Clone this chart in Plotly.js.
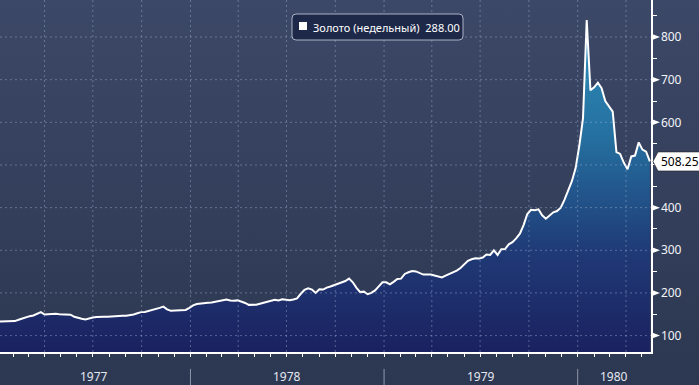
<!DOCTYPE html>
<html><head><meta charset="utf-8">
<script src="https://cdn.plot.ly/plotly-3.0.1.min.js"></script>
<style>
html,body{margin:0;padding:0;width:699px;height:385px;overflow:hidden;background:linear-gradient(#3c4867,#2c3751);}
#chart{width:699px;height:385px;}
</style>
</head><body><div id="chart"></div>
<script>
const dates = [
'1977-01-07','1977-01-14','1977-01-21','1977-01-28','1977-02-04','1977-02-11','1977-02-18','1977-02-25','1977-03-04','1977-03-11','1977-03-18','1977-03-25','1977-04-01','1977-04-08','1977-04-15','1977-04-22','1977-04-29','1977-05-06','1977-05-13','1977-05-20','1977-05-27','1977-06-03','1977-06-10','1977-06-17','1977-06-24','1977-07-01','1977-07-08','1977-07-15','1977-07-22','1977-07-29','1977-08-05','1977-08-12','1977-08-19','1977-08-26','1977-09-02','1977-09-09','1977-09-16','1977-09-23','1977-09-30','1977-10-07','1977-10-14','1977-10-21','1977-10-28','1977-11-04','1977-11-11','1977-11-18','1977-11-25','1977-12-02','1977-12-09','1977-12-16','1977-12-23','1977-12-30',
'1978-01-06','1978-01-13','1978-01-20','1978-01-27','1978-02-03','1978-02-10','1978-02-17','1978-02-24','1978-03-03','1978-03-10','1978-03-17','1978-03-24','1978-03-31','1978-04-07','1978-04-14','1978-04-21','1978-04-28','1978-05-05','1978-05-12','1978-05-19','1978-05-26','1978-06-02','1978-06-09','1978-06-16','1978-06-23','1978-06-30','1978-07-07','1978-07-14','1978-07-21','1978-07-28','1978-08-04','1978-08-11','1978-08-18','1978-08-25','1978-09-01','1978-09-08','1978-09-15','1978-09-22','1978-09-29','1978-10-06','1978-10-13','1978-10-20','1978-10-27','1978-11-03','1978-11-10','1978-11-17','1978-11-24','1978-12-01','1978-12-08','1978-12-15','1978-12-22','1978-12-29',
'1979-01-05','1979-01-12','1979-01-19','1979-01-26','1979-02-02','1979-02-09','1979-02-16','1979-02-23','1979-03-02','1979-03-09','1979-03-16','1979-03-23','1979-03-30','1979-04-06','1979-04-13','1979-04-20','1979-04-27','1979-05-04','1979-05-11','1979-05-18','1979-05-25','1979-06-01','1979-06-08','1979-06-15','1979-06-22','1979-06-29','1979-07-06','1979-07-13','1979-07-20','1979-07-27','1979-08-03','1979-08-10','1979-08-17','1979-08-24','1979-08-31','1979-09-07','1979-09-14','1979-09-21','1979-09-28','1979-10-05','1979-10-12','1979-10-19','1979-10-26','1979-11-02','1979-11-09','1979-11-16','1979-11-23','1979-11-30','1979-12-07','1979-12-14','1979-12-21','1979-12-28',
'1980-01-04','1980-01-11','1980-01-18','1980-01-25','1980-02-01','1980-02-08','1980-02-15','1980-02-22','1980-02-29','1980-03-07','1980-03-14','1980-03-21','1980-03-28','1980-04-04','1980-04-11','1980-04-18','1980-04-25','1980-05-02','1980-05-09','1980-05-16'
];
const prices = [
133,133,133,133,134,137,140,143,145.5,147,151,155,
149.5,150,151,151,150,150,149.5,149,144,141,139.5,138,
140.5,142.5,143.5,144.4,144,144,145,146,146.2,146.4,146.6,147.5,
149.5,152.5,155,155.5,157.5,160,162,165,168,161.5,158,158.5,
159,159.5,160,165,
170.8,174,175.5,176.5,177,177.8,179,181.3,183,184.3,182.5,181.5,
182.5,180,176.5,172,171.5,172.4,174.8,177.2,179.5,182.5,184,182.5,
185,184,183,184.8,187,198,207,211,208,200,208.5,208,
212.5,215,218,220.5,225,228,233.5,225,212,202,203,197,
200,206,215.5,225,225,220,226,232.5,233.5,244.5,248.5,251.3,
250.5,247.5,243,243.2,243,241,238,236.5,240.5,244,247.3,252.5,
258.5,268,275.5,279,281,280.5,283,290,289,300,289,302.5,
303,314,319,328,339,359,385,395,394,396,382,374,
382,389,392,400,418,440,462,492,545,610,840,675,
682,693,680,650,636,625,530,526,505,490,520,522,
553,536,531,508.25
];
const yearLabels = ['1977','1978','1979','1980'];
const yTickVals = [100,200,300,400,500,600,700,800];
const yTickText = ['100','200','300','400','','600','700','800'];
const lastValueText = '508.25';
const legendLabel = 'Золото (недельный)\u00a0\u00a0288.00';

const startMs = Date.UTC(1977,0,7);
const endMs = Date.UTC(1980,4,18,4);
const fmt = ms => new Date(ms).toISOString().slice(0,19).replace('T',' ');
const xRange = [fmt(startMs), fmt(endMs)];
const yRange = [61.5, 886.8];
const lastValue = prices[prices.length-1];

const gridColor = 'rgba(170,185,220,0.42)';
const shapes = [];
yearLabels.map(Number).forEach(y => {
  [0,3,6,9].forEach(m => {
    const ms = Date.UTC(y,m,1);
    if (ms > startMs && ms < endMs) {
      shapes.push({type:'line', xref:'x', yref:'paper', x0:fmt(ms), x1:fmt(ms), y0:0, y1:1,
        line:{color:gridColor, width:1, dash:'2px,3px'}, layer:'above'});
    }
  });
});
yTickVals.forEach(v => {
  shapes.push({type:'line', xref:'paper', yref:'y', x0:0, x1:1, y0:v, y1:v,
    line:{color:gridColor, width:1, dash:'2px,3px'}, layer:'above'});
});
yearLabels.map(Number).forEach(y => {
  const ms = Date.UTC(y,0,1);
  if (ms > startMs && ms < endMs) {
    shapes.push({type:'line', xref:'x', yref:'paper', x0:fmt(ms), x1:fmt(ms), y0:-0.048, y1:-0.095,
      line:{color:'#8e97aa', width:1}});
  }
});
yTickVals.forEach((v,i) => {
  if (yTickText[i] === '') return;
  shapes.push({type:'path', xref:'paper', xsizemode:'pixel', xanchor:1, yref:'y', ysizemode:'pixel', yanchor:v,
    path:'M 1,3 L 1,-3 L 9,0 Z', fillcolor:'#ffffff', line:{width:0}, layer:'above'});
});
shapes.push({type:'path', xref:'paper', xsizemode:'pixel', xanchor:1, yref:'y', ysizemode:'pixel', yanchor:lastValue,
  path:'M 2,0 L 7,9.5 L 50,9.5 L 50,-9.5 L 7,-9.5 Z', fillcolor:'#ffffff', line:{color:'#222', width:0.6}, layer:'above'});
shapes.push({type:'path', xref:'paper', xsizemode:'pixel', xanchor:0, yref:'paper', ysizemode:'pixel', yanchor:1,
  path:'M 296,-14 L 459,-14 Q 463,-14 463,-18 L 463,-36 Q 463,-40 459,-40 L 296,-40 Q 292,-40 292,-36 L 292,-18 Q 292,-14 296,-14 Z',
  fillcolor:'#1e2848', line:{color:'#aab2c4', width:1}, layer:'above'});
shapes.push({type:'path', xref:'paper', xsizemode:'pixel', xanchor:0, yref:'paper', ysizemode:'pixel', yanchor:1,
  path:'M 299,-22 L 307,-22 L 307,-30 L 299,-30 Z', fillcolor:'#ffffff', line:{width:0}, layer:'above'});

const annotations = [];
yearLabels.forEach(lbl => {
  const y = Number(lbl);
  const a = Date.UTC(y,0,1);
  const b = Math.min(Date.UTC(y+1,0,1), endMs);
  annotations.push({xref:'x', yref:'paper', x:fmt((a+b)/2), y:-0.07, yanchor:'middle', xanchor:'center',
    borderpad:0, text:lbl, showarrow:false, font:{family:'Noto Sans', size:12, color:'#e4e8ef'}});
});
annotations.push({xref:'paper', yref:'y', x:1, y:lastValue, xanchor:'left', yanchor:'middle', xshift:8,
  text:lastValueText, showarrow:false, font:{family:'Noto Sans', size:12, color:'#000'}});
annotations.push({xref:'paper', yref:'paper', x:0, y:1, xanchor:'left', yanchor:'middle', xshift:311, yshift:-27,
  text:legendLabel, showarrow:false, font:{family:'Noto Sans', size:11, color:'#ffffff'}});

const trace = {
  type:'scatter', mode:'lines', x:dates, y:prices,
  line:{color:'#ffffff', width:2},
  fill:'tozeroy',
  fillgradient:{type:'vertical', start:yRange[0], stop:840,
    colorscale:[[0,'#1b2160'],[0.3,'#1f3a76'],[0.65,'#2570a0'],[1,'#2e90bc']]},
  hoverinfo:'skip'
};

const layout = {
  width:699, height:385,
  margin:{l:0, r:48, t:0, b:33, pad:0},
  paper_bgcolor:'rgba(0,0,0,0)', plot_bgcolor:'rgba(0,0,0,0)',
  showlegend:false,
  xaxis:{type:'date', range:xRange, tickmode:'linear', tick0:'1977-01-01', dtick:'M1',
    ticks:'outside', ticklen:3, tickwidth:1, tickcolor:'#ffffff', showticklabels:false,
    showgrid:false, zeroline:false, showline:true, linecolor:'#ffffff', linewidth:1.5, fixedrange:true},
  yaxis:{side:'right', range:yRange, tickmode:'array', tickvals:yTickVals, ticktext:yTickText,
    ticks:'outside', ticklen:6, tickcolor:'rgba(0,0,0,0)',
    tickfont:{family:'Noto Sans', size:12, color:'#f2f4f8'},
    minor:{tickmode:'linear', tick0:0, dtick:50, ticks:'outside', ticklen:4, tickwidth:1, tickcolor:'#ffffff', showgrid:false},
    showgrid:false, zeroline:false, showline:true, linecolor:'#ffffff', linewidth:1.5, fixedrange:true},
  shapes:shapes,
  annotations:annotations
};

Plotly.newPlot('chart', [trace], layout, {displayModeBar:false, staticPlot:true});
</script>
</body></html>
